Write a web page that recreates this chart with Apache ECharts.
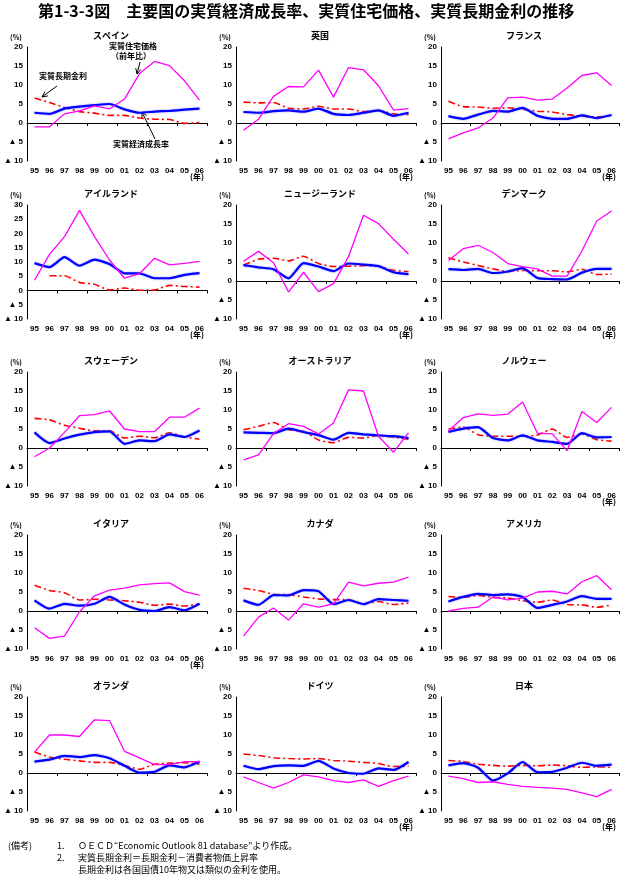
<!DOCTYPE html>
<html>
<head>
<meta charset="utf-8">
<script src="https://cdn.jsdelivr.net/npm/echarts/dist/echarts.min.js"></script>
<style>
html,body{margin:0;padding:0;background:#fff}
#chart{width:625px;height:880px}
</style>
</head>
<body>
<div id="chart"></div>
<script>
// 年（カテゴリ）
var years = ['95','96','97','98','99','00','01','02','03','04','05','06'];
var countries = ['スペイン','英国','フランス','アイルランド','ニュージーランド','デンマーク',
                 'スウェーデン','オーストラリア','ノルウェー','イタリア','カナダ','アメリカ',
                 'オランダ','ドイツ','日本'];

// 実質住宅価格（前年比） / 実質経済成長率 / 実質長期金利
var esp_house  = [-1.0,-1.0,2.4,3.2,4.5,3.7,6.3,13.0,16.2,15.1,11.1,6.0];
var esp_growth = [2.7,2.4,3.8,4.3,4.7,5.0,3.6,2.7,3.0,3.2,3.5,3.8];
var esp_rate   = [6.6,5.4,4.1,3.0,2.6,2.0,2.0,1.3,1.0,0.9,-0.1,0.1];

var gbr_house  = [-1.9,1.0,7.0,9.6,9.5,13.9,6.8,14.6,14.0,9.8,3.4,3.8];
var gbr_growth = [2.9,2.7,3.1,3.3,3.0,3.8,2.4,2.1,2.7,3.3,1.9,2.7];
var gbr_rate   = [5.5,5.3,5.4,3.9,3.7,4.4,3.7,3.7,3.0,3.3,2.4,2.2];

var fra_house  = [-4.2,-2.6,-1.3,1.3,6.6,6.8,6.0,6.3,9.2,12.5,13.2,9.9];
var fra_growth = [1.8,1.1,2.2,3.2,3.0,4.0,1.9,1.1,1.1,2.0,1.3,2.1];
var fra_rate   = [5.7,4.3,4.2,3.9,4.0,3.6,3.1,2.9,2.2,1.8,1.6,1.9];

var irl_house  = [3.6,12.7,18.9,28.1,18.9,10.7,4.3,5.9,11.3,9.0,9.5,10.2];
var irl_growth = [9.6,8.2,11.7,8.7,10.8,9.3,6.0,6.0,4.3,4.3,5.5,6.1];
var irl_rate   = [null,5.2,5.2,2.8,2.2,0.2,0.9,0.1,0.2,1.8,1.4,1.2];

var nzl_house  = [5.2,7.8,4.8,-2.9,2.3,-2.8,-0.7,6.4,17.3,15.1,11.0,7.1];
var nzl_growth = [4.2,3.6,3.1,0.7,4.7,3.8,2.6,4.6,4.3,3.9,2.3,1.8];
var nzl_rate   = [4.2,5.7,6.0,5.3,6.5,4.6,3.8,3.9,4.0,3.9,2.8,2.5];

var dnk_house  = [5.4,8.5,9.4,7.5,4.6,3.8,3.2,1.3,1.3,7.9,15.8,18.4];
var dnk_growth = [3.1,2.9,3.2,2.1,2.5,3.4,0.8,0.5,0.4,2.2,3.2,3.2];
var dnk_rate   = [6.1,5.0,4.1,3.2,2.5,2.8,2.7,2.7,2.4,3.1,1.7,1.8];

var swe_house  = [-2.3,0.0,4.1,8.5,8.8,9.8,5.0,4.3,4.3,8.1,8.1,10.5];
var swe_growth = [4.1,1.3,2.5,3.5,4.2,4.4,1.1,2.0,1.8,3.6,2.9,4.6];
var swe_rate   = [7.8,7.4,6.0,5.2,4.5,4.5,2.6,3.1,2.7,4.0,2.9,2.3];

var aus_house  = [-3.1,-1.8,3.8,6.4,5.7,3.7,6.6,15.3,15.0,3.1,-1.1,4.0];
var aus_growth = [4.1,4.0,3.9,5.1,4.2,3.4,2.2,4.0,3.6,3.3,3.1,2.6];
var aus_rate   = [4.8,5.7,6.7,4.8,4.4,2.1,1.4,2.8,2.6,3.3,2.8,2.3];

var nor_house  = [4.5,8.0,9.0,8.6,8.9,12.1,3.9,3.7,-0.7,9.6,6.7,10.7];
var nor_growth = [4.2,5.1,5.5,2.6,2.0,3.3,2.0,1.6,1.1,3.9,2.8,2.9];
var nor_rate   = [5.0,5.5,3.5,3.1,3.1,3.1,3.4,5.0,2.8,3.7,2.2,1.8];

var ita_house  = [-4.4,-7.2,-6.6,-0.2,4.0,5.5,6.0,6.9,7.2,7.4,5.1,4.2];
var ita_growth = [2.8,0.6,1.9,1.4,1.9,3.7,1.7,0.3,0.0,1.0,0.2,1.9];
var ita_rate   = [6.8,5.4,4.8,2.9,3.1,2.9,2.7,2.3,1.5,1.8,1.3,1.9];

var can_house  = [-6.6,-1.6,0.8,-2.4,1.9,1.0,1.9,7.6,6.6,7.3,7.6,8.9];
var can_growth = [2.8,1.6,4.2,4.1,5.5,5.2,1.8,2.9,1.8,3.1,2.9,2.7];
var can_rate   = [6.0,5.4,4.4,4.3,3.7,3.2,3.0,3.0,1.9,2.5,1.7,2.1];

var usa_house  = [0.0,0.7,1.0,3.7,2.9,3.4,5.0,5.2,4.5,7.7,9.3,5.6];
var usa_growth = [2.5,3.7,4.5,4.2,4.4,3.7,0.8,1.6,2.5,3.9,3.2,3.2];
var usa_rate   = [3.8,3.6,4.1,3.6,3.4,2.7,2.3,2.9,1.7,1.6,1.0,1.6];

var nld_house  = [5.5,10.0,10.0,9.6,14.0,13.8,5.7,4.0,2.2,2.2,3.0,3.0];
var nld_growth = [3.0,3.5,4.5,4.2,4.7,3.9,1.9,0.1,0.3,2.0,1.5,3.0];
var nld_rate   = [5.5,4.2,3.6,3.2,2.8,2.8,2.0,1.0,2.3,2.6,2.7,2.4];

var deu_house  = [-1.0,-2.5,-4.0,-2.5,-0.5,-1.0,-2.0,-2.5,-1.8,-3.5,-2.0,-0.8];
var deu_growth = [1.9,1.0,1.8,2.0,1.9,3.2,1.2,0.0,-0.2,1.2,0.8,2.9];
var deu_rate   = [5.0,4.6,4.0,3.8,3.7,3.8,3.3,3.1,2.8,2.5,1.7,1.8];

var jpn_house  = [-0.8,-1.5,-2.5,-2.3,-3.0,-3.5,-3.8,-4.0,-4.3,-5.2,-6.2,-4.3];
var jpn_growth = [2.0,2.6,1.4,-2.0,-0.1,2.9,0.2,0.3,1.4,2.7,1.9,2.2];
var jpn_rate   = [3.3,3.0,2.3,2.0,1.8,2.0,1.9,2.1,1.9,1.5,1.6,1.5];

var houseList  = [esp_house,gbr_house,fra_house,irl_house,nzl_house,dnk_house,swe_house,aus_house,nor_house,ita_house,can_house,usa_house,nld_house,deu_house,jpn_house];
var growthList = [esp_growth,gbr_growth,fra_growth,irl_growth,nzl_growth,dnk_growth,swe_growth,aus_growth,nor_growth,ita_growth,can_growth,usa_growth,nld_growth,deu_growth,jpn_growth];
var rateList   = [esp_rate,gbr_rate,fra_rate,irl_rate,nzl_rate,dnk_rate,swe_rate,aus_rate,nor_rate,ita_rate,can_rate,usa_rate,nld_rate,deu_rate,jpn_rate];
var yMaxList   = [20,20,20,30,20,20,20,20,20,20,20,20,20,20,20];

// レイアウト
var colLeft = [27, 236, 441];
var colWidth = [180, 180, 178];
var rowTop = [47, 205, 372, 535, 697];
var panelHeight = 114;
var showNen = [1,1,1,1,1,1,0,0,1,1,0,0,0,1,1];

var numFont = 'Liberation Sans';
var jpFont = 'Noto Sans CJK JP';

var arrow = function (x1, y1, x2, y2) {
    var a = Math.atan2(y2 - y1, x2 - x1), L = 6, w = 0.45;
    return [{
        type: 'line', shape: {x1: x1, y1: y1, x2: x2, y2: y2},
        style: {stroke: '#000', lineWidth: 1}
    }, {
        type: 'polyline',
        shape: {points: [[x2 - L * Math.cos(a - w), y2 - L * Math.sin(a - w)], [x2, y2],
                         [x2 - L * Math.cos(a + w), y2 - L * Math.sin(a + w)]]},
        style: {stroke: '#000', lineWidth: 1}
    }];
};

var smallText = function (x, y, txt, align, size, weight) {
    return {
        type: 'text', x: x, y: y,
        style: {text: txt, fill: '#000', fontFamily: jpFont, fontSize: size || 8,
                fontWeight: weight || 'bold', align: align || 'center', verticalAlign: 'middle'}
    };
};

var yLabel = function (v) { return v < 0 ? '▲ ' + Math.abs(v) : String(v); };

var buildOption = function () {
    var grids = [], xAxes = [], yAxes = [], series = [], titles = [], graphics = [];

    titles.push({
        text: '第1-3-3図　主要国の実質経済成長率、実質住宅価格、実質長期金利の推移',
        left: 38, top: 3, padding: 0,
        textStyle: {fontFamily: jpFont, fontSize: 16, fontWeight: 'bold', color: '#000'}
    });

    for (var i = 0; i < countries.length; i++) {
        var r = Math.floor(i / 3), c = i % 3;
        var gx = colLeft[c], gy = rowTop[r], gw = colWidth[c];
        grids.push({left: gx, top: gy, width: gw, height: panelHeight});

        yAxes.push({
            gridIndex: i, type: 'value', min: -10, max: yMaxList[i], interval: 5,
            axisLine: {show: true, onZero: false, lineStyle: {color: '#000', width: 1}},
            axisTick: {show: false},
            splitLine: {show: false},
            axisLabel: {fontFamily: numFont, fontSize: 8, fontWeight: 'bold', color: '#000', margin: 4,
                        formatter: yLabel}
        });
        // ゼロ線の軸（目盛りのみ）
        xAxes.push({
            gridIndex: i, type: 'category', data: years, boundaryGap: true, position: 'bottom',
            axisLine: {show: true, onZero: true, lineStyle: {color: '#000', width: 1}},
            axisTick: {show: true, length: 3},
            axisLabel: {show: false}
        });
        // 下端のラベル用の軸
        xAxes.push({
            gridIndex: i, type: 'category', data: years, boundaryGap: true, position: 'bottom',
            axisLine: {show: false, onZero: false},
            axisTick: {show: false},
            axisLabel: {interval: 0, fontFamily: numFont, fontSize: 8, fontWeight: 'bold', color: '#000', margin: 6}
        });

        series.push({
            name: '実質長期金利', type: 'line', xAxisIndex: 2 * i, yAxisIndex: i,
            data: rateList[i], symbol: 'none', smooth: 0.2,
            lineStyle: {color: '#ff0000', width: 1.6, type: [7, 3, 2, 3]}
        });
        series.push({
            name: '実質経済成長率', type: 'line', xAxisIndex: 2 * i, yAxisIndex: i,
            data: growthList[i], symbol: 'none', smooth: 0.2,
            lineStyle: {color: '#0000ff', width: 2.2, shadowColor: 'rgba(110,110,255,0.7)', shadowBlur: 2}
        });
        series.push({
            name: '実質住宅価格（前年比）', type: 'line', xAxisIndex: 2 * i, yAxisIndex: i,
            data: houseList[i], symbol: 'none',
            lineStyle: {color: '#ff00ff', width: 1.3}
        });

        titles.push({
            text: countries[i], left: gx + gw / 2 - 6, top: gy - 16, textAlign: 'center', padding: 0,
            textStyle: {fontFamily: jpFont, fontSize: 9, fontWeight: 'bold', color: '#000'}
        });
        graphics.push(smallText(gx - 11, gy - 10, '(%)', 'center', 7));
        if (showNen[i]) {
            graphics.push(smallText(gx + gw - 10, gy + panelHeight + 16, '(年)', 'center', 8));
        }
    }

    // スペインの注記
    graphics.push(smallText(133, 46, '実質住宅価格', 'center', 8));
    graphics.push(smallText(131, 56, '（前年比）', 'center', 8));
    graphics.push(smallText(63, 76, '実質長期金利', 'center', 8));
    graphics.push(smallText(141, 144, '実質経済成長率', 'center', 8));
    graphics = graphics.concat(arrow(140, 62, 137, 74));
    graphics = graphics.concat(arrow(57, 86, 42, 97));
    graphics = graphics.concat(arrow(155, 139, 142, 112));

    // 備考
    graphics.push(smallText(8, 846, '(備考)', 'left', 9, 'normal'));
    graphics.push(smallText(57, 846, '1.', 'left', 9, 'normal'));
    graphics.push(smallText(78, 846, 'ＯＥＣＤ“Economic Outlook 81 database”より作成。', 'left', 9, 'normal'));
    graphics.push(smallText(57, 858, '2.', 'left', 9, 'normal'));
    graphics.push(smallText(78, 858, '実質長期金利＝長期金利－消費者物価上昇率', 'left', 9, 'normal'));
    graphics.push(smallText(78, 870, '長期金利は各国国債10年物又は類似の金利を使用。', 'left', 9, 'normal'));

    return {
        animation: false,
        backgroundColor: '#fff',
        title: titles,
        grid: grids,
        xAxis: xAxes,
        yAxis: yAxes,
        series: series,
        graphic: graphics
    };
};

var chart = echarts.init(document.getElementById('chart'), null, {renderer: 'canvas'});
chart.setOption(buildOption());
</script>
</body>
</html>
